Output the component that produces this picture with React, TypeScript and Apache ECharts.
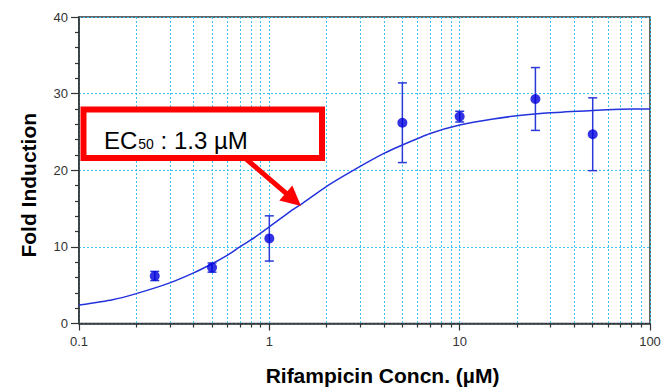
import React, { useEffect, useRef } from "react";
import * as echarts from "echarts";

// ---- data ----
const conc = [0.25, 0.5, 1, 5, 10, 25, 50];
const meanFold = [6.2, 7.3, 11.1, 26.2, 27.0, 29.3, 24.7];
const sdFold = [0.6, 0.6, 2.95, 5.2, 0.7, 4.1, 4.75];

const curveX = [0.1, 0.15, 0.2, 0.3, 0.4, 0.5, 0.6, 0.7, 0.8, 1, 1.3, 1.5, 2, 3, 4, 5, 7, 10, 15, 20, 30, 50, 70, 100];
const curveY = [2.4, 3.1, 3.9, 5.3, 6.6, 7.8, 8.9, 10.0, 10.9, 12.6, 14.7, 15.7, 17.9, 20.5, 22.2, 23.3, 24.8, 25.9, 26.7, 27.1, 27.5, 27.8, 27.95, 28.0];

const yTicks = { min: 0, max: 40, interval: 10 };
const xRange = { min: 0.1, max: 100 };
const annotationText = ["EC", "50", " : 1.3 µM"];

const FONT = "'Liberation Sans', Arial, sans-serif";
const GRID_COLOR = "#3cc4ee";
const AXIS_COLOR = "#333333";
const BLUE = "#0000dd";

export default function App() {
  const ref = useRef<HTMLDivElement>(null);

  useEffect(() => {
    if (!ref.current) return;
    const chart = echarts.init(ref.current, undefined, { renderer: "svg" });

    const errData = conc.map((c, i) => [c, meanFold[i] - sdFold[i], meanFold[i] + sdFold[i]]);
    const pts = conc.map((c, i) => [c, meanFold[i]]);
    const curve = curveX.map((x, i) => [x, curveY[i]]);

    // arrow geometry (annotation)
    const sx = 245, sy = 158, tx = 301, ty = 206;
    const dx = tx - sx, dy = ty - sy;
    const len = Math.sqrt(dx * dx + dy * dy);
    const ux = dx / len, uy = dy / len;
    const headLen = 20, headHalf = 10;
    const bx = tx - ux * headLen, by = ty - uy * headLen;
    const px = -uy, py = ux;

    const option: any = {
      animation: false,
      backgroundColor: "#ffffff",
      grid: {
        left: 79,
        right: 11,
        top: 17,
        bottom: 63.5,
        containLabel: false,
        outerBoundsMode: "none",
        show: true,
        borderColor: AXIS_COLOR,
        borderWidth: 1.5,
        backgroundColor: "transparent",
      },
      xAxis: {
        type: "log",
        logBase: 10,
        min: xRange.min,
        max: xRange.max,
        name: "Rifampicin Concn. (µM)",
        nameLocation: "middle",
        nameGap: 41,
        nameTextStyle: {
          fontFamily: FONT,
          fontSize: 21,
          fontWeight: "bold",
          color: "#000",
          verticalAlign: "top",
          lineHeight: 22,
          padding: [0, 0, 0, 36],
        },
        axisLine: { show: true, lineStyle: { color: AXIS_COLOR, width: 1.5 } },
        axisTick: { show: true, inside: false, length: 7, lineStyle: { color: AXIS_COLOR, width: 1.2 } },
        minorTick: { show: true, splitNumber: 9, length: 4, lineStyle: { color: AXIS_COLOR, width: 1.2 } },
        splitLine: { show: true, lineStyle: { color: GRID_COLOR, type: [2, 2], width: 1 } },
        minorSplitLine: { show: true, lineStyle: { color: GRID_COLOR, type: [2, 2], width: 1 } },
        axisLabel: {
          fontFamily: FONT,
          fontSize: 13,
          color: "#333",
          margin: 11,
          formatter: (v: number) => String(v),
        },
      },
      yAxis: {
        type: "value",
        min: yTicks.min,
        max: yTicks.max,
        interval: yTicks.interval,
        name: "Fold Induction",
        nameLocation: "middle",
        nameGap: 40,
        nameRotate: 90,
        nameTextStyle: {
          fontFamily: FONT,
          fontSize: 21,
          fontWeight: "bold",
          color: "#000",
          padding: [0, 30, 0, 0],
        },
        axisLine: { show: true, lineStyle: { color: AXIS_COLOR, width: 1.5 } },
        axisTick: { show: true, inside: false, length: 8, lineStyle: { color: AXIS_COLOR, width: 1.2 } },
        minorTick: { show: true, splitNumber: 5, length: 4, lineStyle: { color: AXIS_COLOR, width: 1.2 } },
        splitLine: { show: true, lineStyle: { color: GRID_COLOR, type: [2, 2], width: 1 } },
        axisLabel: {
          fontFamily: FONT,
          fontSize: 13,
          color: "#333",
          margin: 11,
        },
      },
      series: [
        {
          type: "line",
          data: curve,
          smooth: 0.2,
          showSymbol: false,
          symbol: "none",
          lineStyle: { color: "#2233dd", width: 1.5 },
          z: 3,
        },
        {
          type: "custom",
          data: errData,
          encode: { x: 0, y: [1, 2] },
          z: 4,
          renderItem: (params: any, api: any) => {
            const x = api.value(0);
            const lo = api.coord([x, api.value(1)]);
            const hi = api.coord([x, api.value(2)]);
            const w = 4.5;
            const st = { stroke: "#2a3ad8", lineWidth: 1.5 };
            return {
              type: "group",
              children: [
                { type: "line", shape: { x1: lo[0], y1: lo[1], x2: hi[0], y2: hi[1] }, style: st },
                { type: "line", shape: { x1: lo[0] - w, y1: lo[1], x2: lo[0] + w, y2: lo[1] }, style: st },
                { type: "line", shape: { x1: hi[0] - w, y1: hi[1], x2: hi[0] + w, y2: hi[1] }, style: st },
              ],
            };
          },
        },
        {
          type: "scatter",
          data: pts,
          symbol: "circle",
          symbolSize: 10,
          itemStyle: { color: BLUE },
          z: 5,
        },
      ],
      graphic: [
        {
          type: "rect",
          shape: { x: 83.5, y: 109.5, width: 238.5, height: 48.5 },
          style: { fill: "#ffffff", stroke: "#ff0000", lineWidth: 6 },
          z: 100,
        },
        {
          type: "text",
          x: 104,
          y: 138.5,
          style: {
            text: `{a|${annotationText[0]}}{b|${annotationText[1]}}{a|${annotationText[2]}}`,
            verticalAlign: "middle",
            rich: {
              a: { fontFamily: FONT, fontSize: 24, color: "#000", verticalAlign: "bottom", lineHeight: 28 },
              b: { fontFamily: FONT, fontSize: 14, color: "#000", verticalAlign: "bottom", lineHeight: 28, padding: [0, 0, 2, 1] },
            },
          },
          z: 101,
        },
        {
          type: "line",
          shape: { x1: sx, y1: sy, x2: bx + ux * 2, y2: by + uy * 2 },
          style: { stroke: "#ff0000", lineWidth: 5 },
          z: 99,
        },
        {
          type: "polygon",
          shape: {
            points: [
              [tx, ty],
              [bx + px * headHalf, by + py * headHalf],
              [bx - px * headHalf, by - py * headHalf],
            ],
          },
          style: { fill: "#ff0000" },
          z: 99,
        },
      ],
    };

    chart.setOption(option);
    return () => chart.dispose();
  }, []);

  return (
    <div
      ref={ref}
      style={{ position: "fixed", left: 0, top: 0, width: 661, height: 387, background: "#fff" }}
    />
  );
}
